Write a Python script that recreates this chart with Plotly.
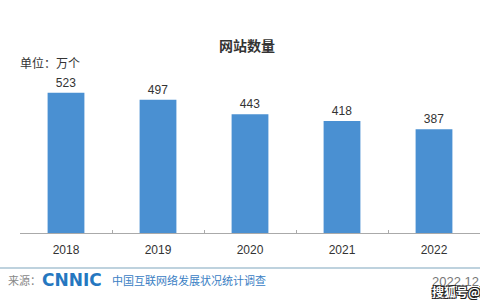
import plotly.graph_objects as go

years = ["2018", "2019", "2020", "2021", "2022"]
values = [523, 497, 443, 418, 387]
title_text = "网站数量"
unit_text = "单位：万个"
source_label = "来源："
logo_text = "CNNIC"
survey_text = "中国互联网络发展状况统计调查"
date_text = "2022.12"
sohu_text = "搜狐号@新"

W, H = 480, 300
base_y = 233
px_per_unit = 0.268
ymax = base_y / px_per_unit

fig = go.Figure()
fig.add_trace(go.Bar(
    x=years, y=values, text=[str(v) for v in values], textposition="outside",
    textfont=dict(size=12, color="#333333", family="Liberation Sans, Arial"),
    marker=dict(color="#4a90d2", line=dict(width=0)),
    cliponaxis=False, width=0.4,
))


def ann(x, y, text, font, xanchor="center"):
    return dict(x=x / W, y=1 - y / H, xref="paper", yref="paper", text=text,
                showarrow=False, xanchor=xanchor, yanchor="middle", font=font)


annotations = [
    ann(247, 45, title_text, dict(size=14, color="#333333", family="Noto Sans CJK SC", weight="bold")),
    ann(18, 62, unit_text, dict(size=12, color="#333333", family="Noto Sans CJK SC"), "left"),
    ann(6, 280, source_label, dict(size=11, color="#888888", family="Noto Sans CJK SC"), "left"),
    ann(40, 280, logo_text, dict(size=17, color="#2577c0", family="DejaVu Sans", weight="bold"), "left"),
    ann(110, 280, survey_text, dict(size=11, color="#3a80c4", family="Noto Sans CJK SC"), "left"),
    ann(430, 281, date_text, dict(size=13, color="#777777", family="Liberation Sans, Arial"), "left"),
    ann(430, 291, sohu_text, dict(size=12, color="#ffffff", family="Noto Sans CJK SC", weight="bold",
                                  shadow="1px 1px 0 #222, -1px -1px 0 #222, 1px -1px 0 #222, -1px 1px 0 #222"),
        "left"),
]

fig.update_layout(
    width=W, height=H, margin=dict(l=0, r=0, t=0, b=0),
    paper_bgcolor="white", plot_bgcolor="rgba(0,0,0,0)",
    showlegend=False, annotations=annotations,
    shapes=[dict(type="line", xref="paper", yref="paper", x0=0, x1=1,
                 y0=1 - 268 / H, y1=1 - 268 / H, line=dict(color="#a9c3d3", width=1.5))],
    xaxis=dict(domain=[20 / W, 1], range=[-0.5, 4.5], showline=True, linecolor="#aaaaaa",
               linewidth=1, ticks="inside", ticklen=3, tickcolor="#aaaaaa",
               tickson="boundaries", showgrid=False, ticklabelstandoff=6,
               tickfont=dict(size=12, color="#333333", family="Liberation Sans, Arial")),
    yaxis=dict(domain=[(H - base_y) / H, 1], range=[0, ymax], visible=False, showgrid=False),
)

fig.write_html("out.html")
